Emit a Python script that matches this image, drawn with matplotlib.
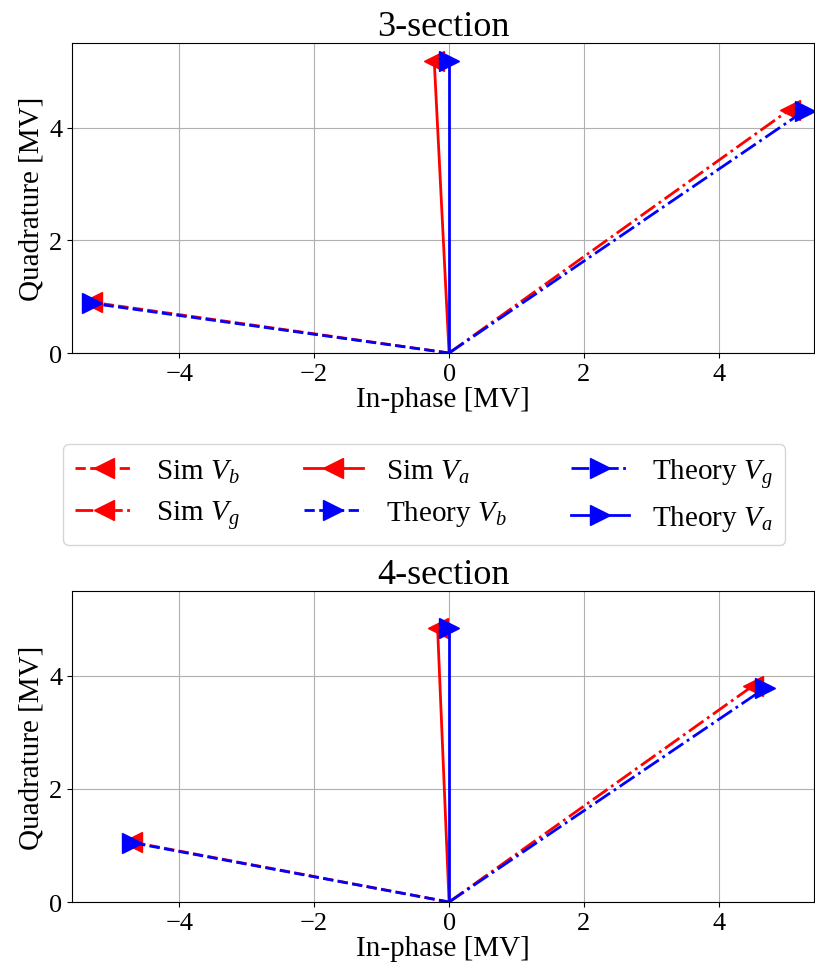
import matplotlib
matplotlib.use("Agg")
import matplotlib.pyplot as plt

plt.rcParams['font.family'] = ['Liberation Serif', 'DejaVu Serif']
plt.rcParams['mathtext.fontset'] = 'custom'
plt.rcParams['mathtext.rm'] = 'Liberation Serif'
plt.rcParams['mathtext.it'] = 'Liberation Serif:italic'

# phasor end points [MV]: (in-phase, quadrature)
titles = ['3-section', '4-section']
sim_vb = [(-5.29, 0.90), (-4.70, 1.06)]
sim_vg = [(5.05, 4.32), (4.50, 3.82)]
sim_va = [(-0.22, 5.19), (-0.17, 4.84)]
th_vb = [(-5.29, 0.88), (-4.70, 1.05)]
th_vg = [(5.27, 4.30), (4.68, 3.78)]
th_va = [(0.0, 5.19), (0.0, 4.84)]

fig = plt.figure(figsize=(8.15, 9.79), dpi=100)
ax1 = fig.add_axes([0.0883, 0.6384, 0.9105, 0.3166])
ax2 = fig.add_axes([0.0883, 0.0776, 0.9105, 0.3177])

ms = 15
lw = 2
for i, ax in enumerate([ax1, ax2]):
    series = [
        (sim_vb[i], 'r', '--', '<', r'Sim $V_b$'),
        (sim_vg[i], 'r', '-.', '<', r'Sim $V_g$'),
        (sim_va[i], 'r', '-', '<', r'Sim $V_a$'),
        (th_vb[i], 'b', '--', '>', r'Theory $V_b$'),
        (th_vg[i], 'b', '-.', '>', r'Theory $V_g$'),
        (th_va[i], 'b', '-', '>', r'Theory $V_a$'),
    ]
    for (x, y), c, ls, mk, lab in series:
        ax.plot([0, x], [0, y], color=c, ls=ls, lw=lw, marker=mk,
                markevery=[1], ms=ms, label=lab)
    ax.set_xlim(-5.59, 5.41)
    ax.set_ylim(0, 5.5)
    ax.set_xticks([-4, -2, 0, 2, 4])
    ax.set_yticks([0, 2, 4])
    ax.tick_params(labelsize=19)
    ax.set_xlabel('In-phase [MV]', fontsize=21, labelpad=1)
    ax.set_ylabel('Quadrature [MV]', fontsize=21, labelpad=3)
    ax.set_title(titles[i], fontsize=26, pad=4)
    ax.grid(True)
    ax.set_axisbelow(True)

handles, labels = ax1.get_legend_handles_labels()
fig.legend(handles, labels, ncol=3, loc='center', bbox_to_anchor=(424 / 815, 0.494),
           fontsize=21, numpoints=1, handlelength=2.0, columnspacing=2.2,
           labelspacing=0.45)

fig.savefig('out.png', dpi=100)
